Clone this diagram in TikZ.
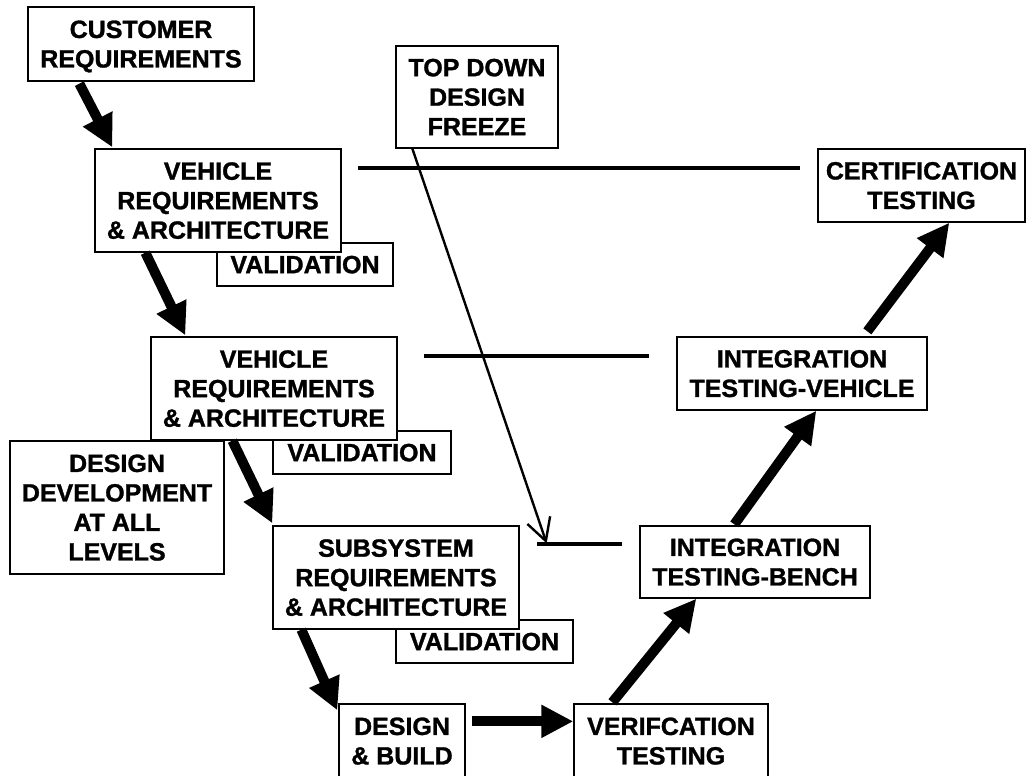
\documentclass[tikz,border=0pt]{standalone}
\usepackage{fontspec}
\setmainfont{Liberation Sans}[BoldFeatures={FakeBold=1.2}]
\usetikzlibrary{arrows.meta}
\begin{document}
\begin{tikzpicture}[x=1bp,y=-1bp,
  box/.style={draw, line width=1.3bp, fill=white, inner sep=0pt, align=center,
    text depth=-5bp, font=\fontsize{25bp}{29.5bp}\selectfont\bfseries},
  flow/.style={line width=10bp, -{Triangle[length=32bp,width=31bp]}},
  level/.style={line width=4bp},
  freeze/.style={line width=2.4bp, -{Straight Barb[length=22bp,width=24bp,line width=2.4bp]}}]
\clip (0,0) rectangle (1028,776);
\fill[white] (0,0) rectangle (1028,776);

% validation tags sit behind the requirement boxes
\node[box, minimum width=176bp, minimum height=43bp] (val1) at (305,264.5) {VALIDATION};
\node[box, minimum width=178bp, minimum height=43bp] (val2) at (362,452.5) {VALIDATION};
\node[box, minimum width=177bp, minimum height=43bp] (val3) at (484.5,641.5) {VALIDATION};

% left leg of the V
\node[box, minimum width=226bp, minimum height=74bp] (cust) at (141,44) {CUSTOMER\\REQUIREMENTS};
\node[box, minimum width=246bp, minimum height=103bp] (veh1) at (218,200.5) {VEHICLE\\REQUIREMENTS\\\& ARCHITECTURE};
\node[box, minimum width=246bp, minimum height=103bp] (veh2) at (274,388.5) {VEHICLE\\REQUIREMENTS\\\& ARCHITECTURE};
\node[box, minimum width=246bp, minimum height=103bp] (sub) at (396,577.5) {SUBSYSTEM\\REQUIREMENTS\\\& ARCHITECTURE};
\node[box, minimum width=126bp, minimum height=74bp] (db) at (402,741) {DESIGN\\\& BUILD};
\node[box, minimum width=214bp, minimum height=133bp] (dd) at (117,507.5) {DESIGN\\DEVELOPMENT\\AT ALL\\LEVELS};
\node[box, minimum width=162bp, minimum height=102bp] (tdf) at (477,97) {TOP DOWN\\DESIGN\\FREEZE};

% right leg of the V
\node[box, minimum width=194bp, minimum height=74bp] (ver) at (671,741) {VERIFCATION\\TESTING};
\node[box, minimum width=230bp, minimum height=72bp] (itb) at (755,562) {INTEGRATION\\TESTING-BENCH};
\node[box, minimum width=250bp, minimum height=73bp] (itv) at (802,373.5) {INTEGRATION\\TESTING-VEHICLE};
\node[box, minimum width=207bp, minimum height=73bp] (cert) at (921.5,185.5) {CERTIFICATION\\TESTING};

% level links between the legs
\coordinate (l1a) at (358,168);  \coordinate (l1b) at (800,168);
\coordinate (l2a) at (424,356);  \coordinate (l2b) at (649,356);
\coordinate (l3a) at (537,544);  \coordinate (l3b) at (622,544);
\draw[level] (l1a) -- (l1b);
\draw[level] (l2a) -- (l2b);
\draw[level] (l3a) -- (l3b);

% flow arrows
\draw[flow] ([xshift=52bp,yshift=-2bp]cust.south west) -- ([xshift=18bp,yshift=1bp]veh1.north west);
\draw[flow] ([xshift=51bp]veh1.south west) -- ([xshift=35bp,yshift=1bp]veh2.north west);
\draw[flow] ([xshift=82bp]veh2.south west) -- ([yshift=2bp]sub.north west);
\draw[flow] ([xshift=29bp]sub.south west) -- ([xshift=-1bp,yshift=-7bp]db.north west);
\draw[flow] ([xshift=6bp,yshift=-18bp]db.north east) -- ([yshift=-18bp]ver.north west);
\draw[flow] ([xshift=39bp,yshift=1bp]ver.north west) -- ([xshift=57bp]itb.north west |- itb.south);
\draw[flow] ([xshift=95bp,yshift=1bp]itb.north west) -- ([xshift=140bp]itv.north west |- itv.south);
\draw[flow] ([xshift=191bp,yshift=5bp]itv.north west) -- ([xshift=132bp]cert.north west |- cert.south);

% design freeze pointer
\draw[freeze] ([xshift=17bp]tdf.south west) -- ([xshift=27bp,yshift=-18bp]sub.north east);
\end{tikzpicture}
\end{document}
